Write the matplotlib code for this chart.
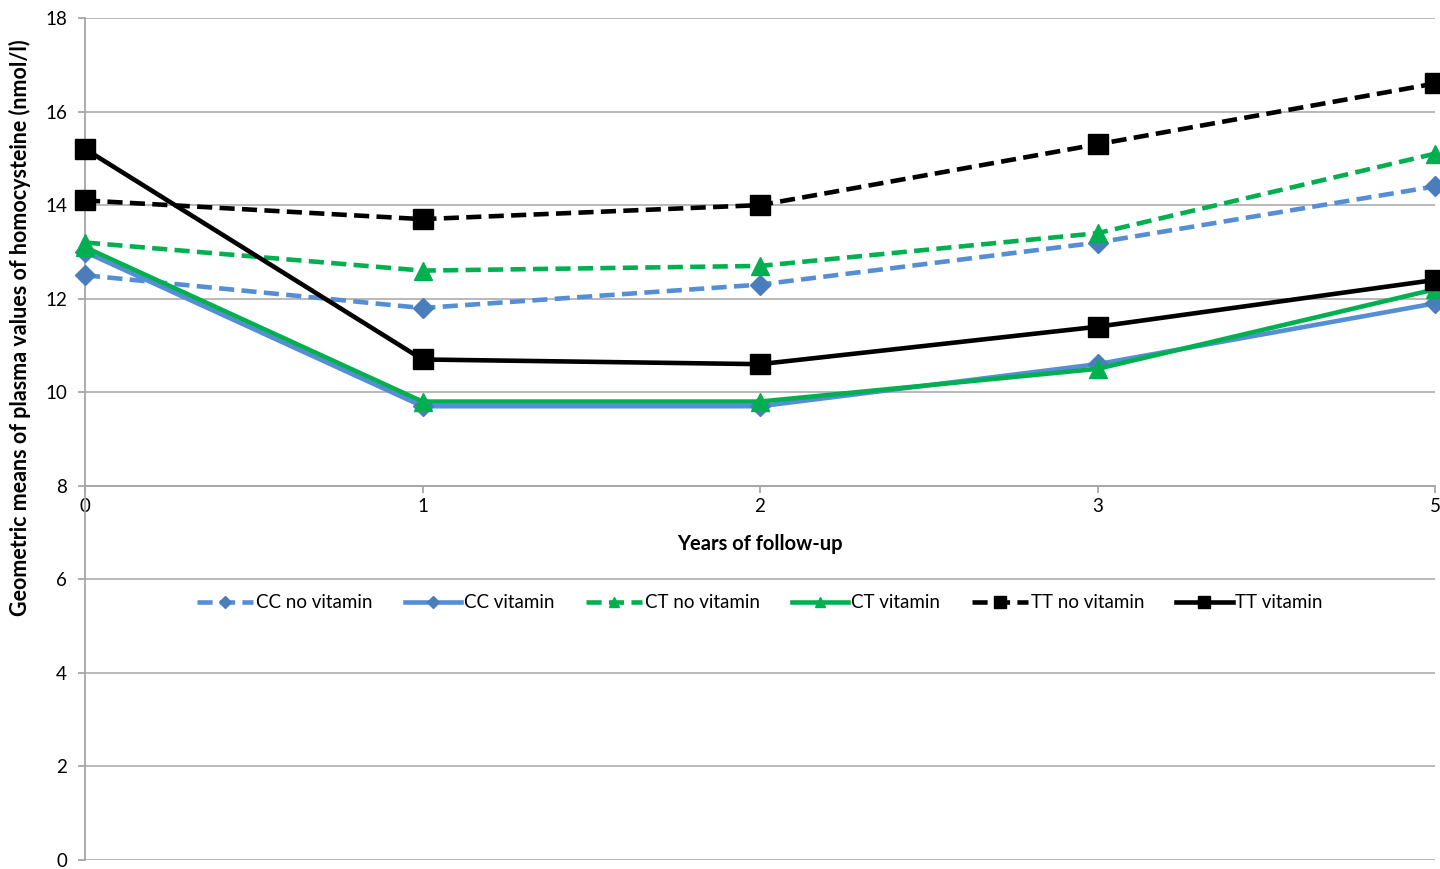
import numpy as np
import matplotlib.pyplot as plt

plt.rcParams['font.family'] = ['Lato', 'DejaVu Sans']

# data
years = ['0', '1', '2', '3', '5']
cc_no_vit = [12.5, 11.8, 12.3, 13.2, 14.4]
cc_vit = [13.0, 9.7, 9.7, 10.6, 11.9]
ct_no_vit = [13.2, 12.6, 12.7, 13.4, 15.1]
ct_vit = [13.1, 9.8, 9.8, 10.5, 12.2]
tt_no_vit = [14.1, 13.7, 14.0, 15.3, 16.6]
tt_vit = [15.2, 10.7, 10.6, 11.4, 12.4]

blue = '#558ED5'
blue_mk = '#4A7EBB'
green = '#00B050'
grid_c = '#A6A6A6'

fig = plt.figure(figsize=(14.4, 8.69), dpi=100)
ax = fig.add_axes([85 / 1440, 1 - 860 / 869, 1350 / 1440, 842 / 869])

x = np.arange(len(years))
lw = 3.3
dash = (3.3, 1.6)

ax.plot(x, cc_no_vit, color=blue, lw=lw, dashes=dash, marker='D', ms=10,
        mfc=blue_mk, mec=blue_mk, label='CC no vitamin', clip_on=False, zorder=3)
ax.plot(x, cc_vit, color=blue, lw=lw, marker='D', ms=10,
        mfc=blue_mk, mec=blue_mk, label='CC vitamin', clip_on=False, zorder=3)
ax.plot(x, ct_no_vit, color=green, lw=lw, dashes=dash, marker='^', ms=13,
        label='CT no vitamin', clip_on=False, zorder=4)
ax.plot(x, ct_vit, color=green, lw=lw, marker='^', ms=13,
        label='CT vitamin', clip_on=False, zorder=4)
ax.plot(x, tt_no_vit, color='black', lw=lw, dashes=dash, marker='s', ms=14,
        label='TT no vitamin', clip_on=False, zorder=5)
ax.plot(x, tt_vit, color='black', lw=lw, marker='s', ms=14,
        label='TT vitamin', clip_on=False, zorder=5)

ax.set_xlim(0, 4)
ax.set_ylim(0, 18)
ax.set_yticks(np.arange(0, 19, 2))
ax.set_xticks(x)
ax.set_xticklabels(years)

ax.grid(axis='y', color=grid_c, lw=1.1, zorder=0)
ax.set_axisbelow(True)
for s in ['top', 'right']:
    ax.spines[s].set_visible(False)
ax.spines['left'].set_color(grid_c)
ax.spines['left'].set_linewidth(1.3)
ax.spines['bottom'].set_position(('data', 8))
ax.spines['bottom'].set_color(grid_c)
ax.spines['bottom'].set_linewidth(1.3)
ax.tick_params(axis='both', colors=grid_c, labelcolor='black', labelsize=13.5,
               direction='out', length=5, width=1.3)
ax.tick_params(axis='y', pad=8)
ax.tick_params(axis='x', pad=4)

ax.text(2, 6.75, 'Years of follow-up', ha='center', va='center',
        fontsize=14.5, fontweight='bold')

fig.text(20 / 1440, 1 - 328 / 869,
         'Geometric means of plasma values of homocysteine (nmol/l)',
         rotation=90, ha='center', va='center', fontsize=15.5, fontweight='bold')

ax.legend(loc='center', bbox_to_anchor=(0.5, 5.5 / 18), ncol=6, frameon=False,
          fontsize=13.5, handlelength=3.0, columnspacing=1.7, handletextpad=0.15,
          markerscale=0.6)

fig.savefig('out.png', dpi=100)
